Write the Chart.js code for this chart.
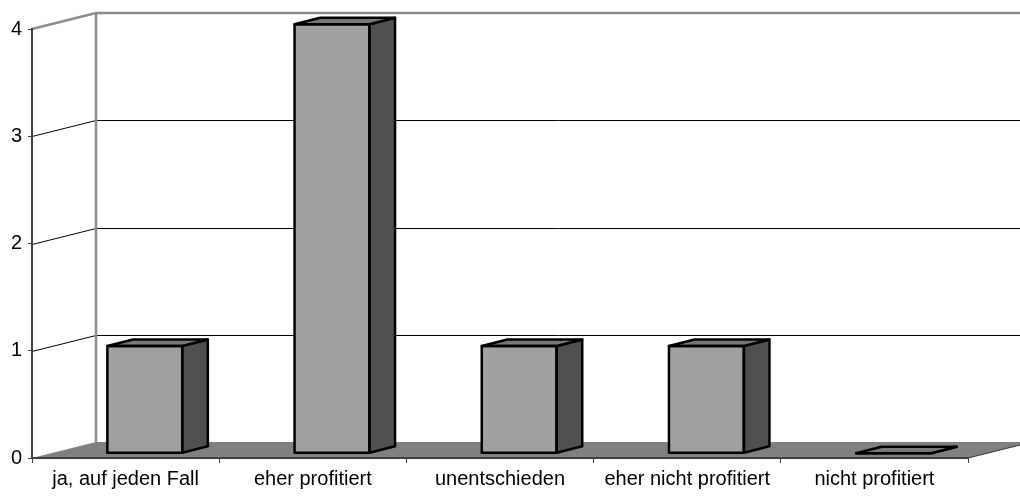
<!DOCTYPE html>
<html lang="de">
<head>
    <meta charset="UTF-8">
    <title>Umfrage</title>
    <style>
        body {
            margin: 0;
            background-color: #fff;
        }
        .chart-box {
            width: 1020px;
            height: 496px;
        }
    </style>
    <script src="https://cdn.jsdelivr.net/npm/chart.js"></script>
</head>
<body>

    <div class="chart-box">
        <canvas id="umfrageChart"></canvas>
    </div>

    <script>
        // Daten
        const kategorien = ['ja, auf jeden Fall', 'eher profitiert', 'unentschieden', 'eher nicht profitiert', 'nicht profitiert'];
        const anzahl = [1, 4, 1, 1, 0];
        const yMax = 4;
        const ySchritt = 1;

        // 3D-Tiefe (Boden und Balken)
        const tiefeX = 64;
        const tiefeY = -16;
        const balkenVorne = 0.3;   // Anteil der Tiefe bis zur Balkenvorderseite
        const balkenTiefe = 0.4;   // Anteil der Tiefe für die Balken

        const schrift = { family: 'Liberation Sans, Arial, sans-serif', size: 20 };

        const waende3d = {
            id: 'waende3d',
            beforeDraw(chart) {
                const { ctx, chartArea: a, scales: { y } } = chart;
                ctx.save();

                // Gitterlinien auf Rück- und Seitenwand
                ctx.strokeStyle = '#000';
                ctx.lineWidth = 1;
                for (let v = ySchritt; v < yMax; v += ySchritt) {
                    const yy = Math.round(y.getPixelForValue(v)) + 0.5;
                    ctx.beginPath();
                    ctx.moveTo(a.left, yy);
                    ctx.lineTo(a.left + tiefeX, yy + tiefeY);
                    ctx.lineTo(a.right + tiefeX, yy + tiefeY);
                    ctx.stroke();
                }

                // obere Kante und linke Kante der Rückwand (grau)
                const yTop = y.getPixelForValue(yMax);
                const yNull = y.getPixelForValue(0);
                ctx.strokeStyle = '#8c8c8c';
                ctx.lineWidth = 2.5;
                ctx.beginPath();
                ctx.moveTo(a.left, yTop);
                ctx.lineTo(a.left + tiefeX, yTop + tiefeY);
                ctx.lineTo(a.right + tiefeX, yTop + tiefeY);
                ctx.moveTo(a.left + tiefeX, yTop + tiefeY);
                ctx.lineTo(a.left + tiefeX, yNull + tiefeY);
                ctx.stroke();

                // Boden
                ctx.fillStyle = '#808080';
                ctx.beginPath();
                ctx.moveTo(a.left, yNull);
                ctx.lineTo(a.left + tiefeX, yNull + tiefeY);
                ctx.lineTo(a.right + tiefeX, yNull + tiefeY);
                ctx.lineTo(a.right, yNull);
                ctx.closePath();
                ctx.fill();
                ctx.strokeStyle = '#333';
                ctx.lineWidth = 1;
                ctx.beginPath();
                ctx.moveTo(a.right, yNull);
                ctx.lineTo(a.right + tiefeX, yNull + tiefeY);
                ctx.stroke();

                ctx.restore();
            },
            beforeDatasetsDraw(chart) {
                // Balken in die Tiefe verschieben
                chart.ctx.save();
                chart.ctx.translate(tiefeX * balkenVorne, tiefeY * balkenVorne);
            },
            afterDatasetsDraw(chart) {
                const ctx = chart.ctx;
                const dx = tiefeX * balkenTiefe;
                const dy = tiefeY * balkenTiefe;
                chart.getDatasetMeta(0).data.forEach(bar => {
                    const links = bar.x - bar.width / 2;
                    const rechts = bar.x + bar.width / 2;
                    const oben = bar.y;
                    const unten = bar.base;
                    ctx.lineWidth = 2.5;
                    ctx.lineJoin = 'round';
                    ctx.strokeStyle = '#000';

                    // Seite
                    ctx.fillStyle = '#505050';
                    ctx.beginPath();
                    ctx.moveTo(rechts, oben);
                    ctx.lineTo(rechts + dx, oben + dy);
                    ctx.lineTo(rechts + dx, unten + dy);
                    ctx.lineTo(rechts, unten);
                    ctx.closePath();
                    ctx.fill();
                    ctx.stroke();

                    // Deckel
                    ctx.fillStyle = '#787878';
                    ctx.beginPath();
                    ctx.moveTo(links, oben);
                    ctx.lineTo(rechts, oben);
                    ctx.lineTo(rechts + dx, oben + dy);
                    ctx.lineTo(links + dx, oben + dy);
                    ctx.closePath();
                    ctx.fill();
                    ctx.stroke();

                    // Vorderseite umranden
                    ctx.strokeRect(links, oben, rechts - links, unten - oben);
                });
                ctx.restore();
            }
        };

        const umfrageChart = new Chart(document.getElementById('umfrageChart'), {
            type: 'bar',
            data: {
                labels: kategorien,
                datasets: [{
                    label: 'Anzahl',
                    data: anzahl,
                    backgroundColor: '#a0a0a0',
                    borderWidth: 0,
                    categoryPercentage: 1,
                    barPercentage: 0.4,
                    clip: false
                }]
            },
            options: {
                responsive: true,
                maintainAspectRatio: false,
                animation: false,
                layout: {
                    padding: { top: 29, right: 52, left: 0, bottom: 0 }
                },
                plugins: {
                    legend: { display: false },
                    tooltip: { enabled: false }
                },
                scales: {
                    x: {
                        afterFit(scale) { scale.height = 38; },
                        grid: {
                            drawOnChartArea: false,
                            color: '#404040',
                            tickLength: 5
                        },
                        border: { color: '#404040', width: 2 },
                        ticks: {
                            color: '#000',
                            padding: 4,
                            maxRotation: 0,
                            autoSkip: false,
                            font: schrift
                        }
                    },
                    y: {
                        min: 0,
                        max: yMax,
                        afterFit(scale) { scale.width = 32; },
                        grid: {
                            drawOnChartArea: false,
                            color: '#404040',
                            tickLength: 4
                        },
                        border: { color: '#404040', width: 2 },
                        ticks: {
                            stepSize: ySchritt,
                            color: '#000',
                            padding: 6,
                            font: schrift
                        }
                    }
                }
            },
            plugins: [waende3d]
        });
    </script>

</body>
</html>
